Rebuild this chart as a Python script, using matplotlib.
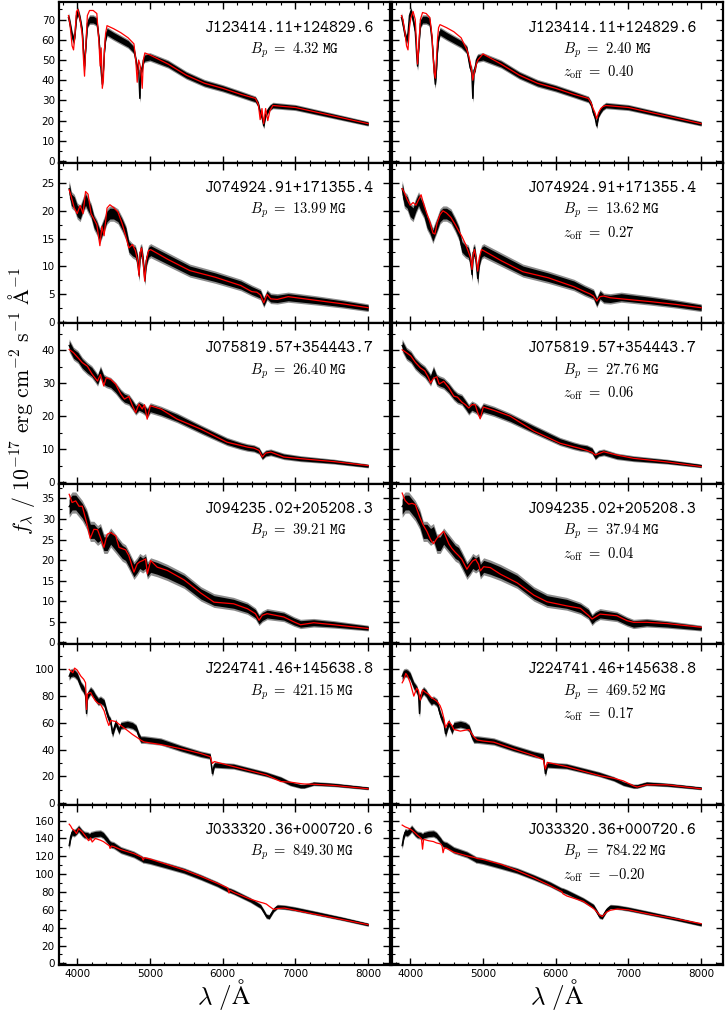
import os
import numpy as np
import matplotlib
matplotlib.use("Agg")
import matplotlib.pyplot as plt
from matplotlib.ticker import MultipleLocator, AutoMinorLocator
from matplotlib.font_manager import FontProperties

# ---------------- data ----------------
names = ["J123414.11+124829.6", "J074924.91+171355.4", "J075819.57+354443.7",
         "J094235.02+205208.3", "J224741.46+145638.8", "J033320.36+000720.6"]
bp_left = ["4.32", "13.99", "26.40", "39.21", "421.15", "849.30"]
bp_right = ["2.40", "13.62", "27.76", "37.94", "469.52", "784.22"]
zoff_right = ["0.40", "0.27", "0.06", "0.04", "0.17", "-0.20"]

y_top = [78.6, 28.7, 48.3, 38.6, 119.0, 178.0]
y_major = [10, 5, 10, 5, 20, 20]
noise_blue = [2.5, 1.5, 2.0, 2.6, 3.5, 4.5]
noise_red = [1.2, 0.7, 0.6, 0.7, 1.2, 2.0]

# Row 1
wl1 = [3880, 3900, 3930, 3950, 3970, 3990, 4010, 4040, 4070, 4090,
       4101, 4115, 4140, 4170, 4220, 4270, 4300, 4315, 4330, 4345,
       4360, 4375, 4390, 4410, 4500, 4600, 4700, 4780, 4805, 4825,
       4845, 4861, 4877, 4894, 4910, 4930, 5000, 5250, 5500, 5750,
       6000, 6250, 6450, 6490, 6515, 6540, 6563, 6590, 6620, 6650,
       6690, 7000, 7250, 7500, 7750, 8000]
obs1 = [71, 68, 62, 60, 63, 72, 74, 70, 64, 52,
        47, 55, 68, 70, 70, 69, 60, 52, 44, 38,
        45, 55, 61, 64, 62, 60, 58, 55, 50, 46,
        45, 31, 45, 46, 50, 51, 51.5, 48, 42.5, 38.5,
        36, 33, 30.5, 28, 24, 22, 17.5, 23, 25, 26.5,
        27.5, 26.5, 24.5, 22.5, 20.5, 18.5]
modL1 = [72, 68, 57, 55, 63, 74, 75, 70, 62, 48,
         42, 55, 72, 74.5, 74.5, 73, 58, 47, 56, 36,
         40, 55, 63, 67, 65.5, 63.5, 61, 58, 50, 39,
         50, 48, 45, 36, 50, 53.5, 52.5, 48, 42.5, 38.5,
         36, 33, 31, 28, 20.5, 26, 18.5, 26, 20, 25,
         27.5, 26.5, 24.5, 22.5, 20.5, 18.5]
modR1 = [72, 70, 63, 57, 55, 66, 71, 74, 70, 56,
         48, 55, 70, 73.5, 73, 71, 62, 52, 44, 41,
         50, 60, 66, 67.5, 66, 64, 61, 55, 52, 49,
         45, 40, 43, 45.5, 48, 50, 53, 48, 42.5, 38.5,
         36, 33, 31, 28.5, 26, 24, 21, 24, 26, 27,
         27.5, 26.5, 24.5, 22.5, 20.5, 18.5]

# Row 2
wl2 = [3890, 3920, 3960, 4000, 4040, 4080, 4115, 4150, 4190, 4230,
       4270, 4312, 4340, 4370, 4410, 4450, 4500, 4560, 4620, 4670,
       4710, 4760, 4800, 4830, 4850, 4865, 4885, 4905, 4928, 4950,
       4980, 5010, 5250, 5550, 5900, 6250, 6400, 6470, 6520, 6565,
       6610, 6660, 6750, 6900, 7300, 7650, 8000]
obs2 = [24, 22, 21.5, 20, 19.5, 21, 22, 21, 20, 18,
        17, 15.5, 16.5, 17.5, 19, 19.5, 19.5, 19, 17.5, 16,
        13.5, 12.8, 12.5, 11, 8.5, 12.5, 12.8, 11, 7.8, 11,
        12.5, 12.8, 11.2, 9.2, 8, 6.6, 5.6, 5.2, 4.9, 3.5,
        4.8, 4.2, 4.1, 4.4, 3.8, 3.2, 2.5]
modL2 = [23.8, 22.5, 20.5, 19.5, 21, 19.5, 23.5, 23, 19.5, 18.5,
         17.5, 13.7, 17.2, 15.5, 20.5, 21.1, 20.6, 19.8, 17.6, 15.3,
         13.3, 13.9, 12.8, 11, 8.2, 12.5, 13.3, 11, 7.3, 11,
         12.8, 13, 11.2, 9.2, 8, 6.5, 5.4, 5.3, 4.8, 3.4,
         4.9, 4.1, 4, 4.5, 3.8, 3.2, 2.5]
modR2 = [24, 23.3, 22, 21, 21.5, 21, 22, 22.9, 21, 19.5,
         18, 16, 15.8, 17.8, 19.3, 20, 19.6, 18.8, 17.5, 16.3,
         15.4, 14, 12.6, 11.5, 9.4, 12, 13, 11.5, 9.1, 11.5,
         13, 12.8, 11, 9, 7.9, 6.3, 5.4, 5, 4.6, 3.7,
         4.5, 4.6, 4.3, 4.1, 3.6, 3.1, 2.5]

# Row 3
wl3 = [3890, 3950, 4010, 4070, 4140, 4200, 4250, 4280, 4320, 4365,
       4400, 4460, 4530, 4600, 4650, 4710, 4760, 4805, 4848, 4894,
       4925, 4962, 5005, 5150, 5375, 5700, 6060, 6250, 6340, 6430,
       6500, 6545, 6590, 6660, 6840, 7070, 7530, 8000]
obs3 = [41.5, 39, 38, 36, 34.5, 33.5, 32, 31, 33.5, 31,
        30.5, 30, 28.5, 26.5, 25.5, 25, 23.5, 22, 23, 22.5,
        22, 21, 22.5, 21.5, 19.5, 16, 12.3, 11, 10.5, 10.2,
        9.5, 7.8, 8.7, 9.0, 7.8, 7.1, 6.2, 4.9]
modL3 = [40.3, 39.3, 37.8, 36.3, 35.2, 33, 31.5, 30.7, 32.7, 29.2,
         31.7, 31.2, 29.7, 26.7, 25.2, 26, 23.2, 21.1, 23.7, 22.2,
         23.5, 19.1, 23.2, 22.2, 19.1, 16.1, 12.1, 11.1, 10.6, 10.3,
         9.6, 7.6, 8.8, 9.1, 7.6, 7.1, 6.2, 5.0]
modR3 = [40.2, 39.3, 38.3, 36.4, 34.7, 33.8, 31.8, 30.1, 31.5, 32,
         29.8, 30.6, 28.7, 26.1, 25.8, 24.3, 23.5, 22.5, 23.5, 23.5,
         21.3, 19.2, 22.8, 21.8, 20, 15.5, 11.8, 10.7, 10.2, 9.6,
         9.0, 8.2, 8.6, 9.2, 8.2, 7.2, 6.1, 4.7]

# Row 4
wl4 = [3890, 3930, 3980, 4025, 4070, 4130, 4180, 4230, 4280, 4320,
       4367, 4413, 4460, 4530, 4575, 4620, 4665, 4710, 4780, 4825,
       4860, 4900, 4940, 4965, 5010, 5100, 5240, 5470, 5700, 5880,
       6150, 6340, 6450, 6500, 6545, 6610, 6840, 6980, 7070, 7250,
       7530, 8000]
obs4 = [33, 34, 34, 33, 32, 30, 27, 27, 26, 26.5,
        24, 24, 25.5, 24, 23, 22, 21.5, 20, 17.5, 18.5,
        19.5, 19, 19.5, 17.5, 18.5, 18, 17, 15, 11.8, 10.2,
        9.4, 8.3, 7, 5.5, 6.3, 6.9, 6.3, 5.1, 4.5, 4.8,
        4.4, 3.5]
modL4 = [36, 34, 34.4, 33.1, 33.1, 29.1, 25.3, 27.5, 27.4, 25.5,
         23.1, 26.3, 26.7, 25.9, 23.1, 22.8, 22.5, 21.1, 17.1, 19.1,
         19.6, 19.9, 20.3, 16.7, 19.9, 18.3, 17.5, 15.2, 12.0, 9.8,
         9.4, 8.2, 7.0, 5.4, 6.6, 7.0, 6.2, 5.0, 4.3, 4.8,
         4.3, 3.4]
modR4 = [36.3, 34.5, 33.6, 33.8, 33.5, 30.5, 28.5, 27, 25, 24,
         25.3, 26.2, 27, 24, 22.8, 21.9, 21.1, 20.2, 17.8, 19,
         19.8, 20.2, 19, 17.4, 18.4, 18.2, 16.6, 14.5, 11.5, 9.9,
         8.9, 8.3, 6.6, 5.7, 6.2, 6.9, 6.5, 5.3, 4.9, 4.9,
         4.6, 3.7]

# Row 5
wl5 = [3890, 3910, 3940, 3965, 4000, 4050, 4090, 4115, 4128, 4140,
       4170, 4185, 4220, 4250, 4290, 4320, 4370, 4410, 4435, 4460,
       4485, 4530, 4575, 4600, 4690, 4760, 4810, 4850, 4875, 4920,
       5000, 5150, 5420, 5700, 5830, 5858, 5885, 6150, 6600, 6800,
       6930, 7070, 7120, 7250, 7530, 8000]
obs5 = [95, 97, 97.5, 97, 95, 88, 85, 81, 67, 80,
        83, 84, 82, 79, 76, 77, 75, 67, 63, 61,
        52, 60, 54, 58, 59, 58, 56, 50, 47.5, 47.5,
        47, 46, 41, 36.5, 35, 22, 28.5, 27.5, 21.5, 18,
        14.5, 12.5, 12.5, 14.5, 13.6, 11]
modL5 = [100, 99, 97.5, 101, 99.5, 95, 92.6, 90, 70, 81.5,
         82.5, 82.7, 79, 76.5, 74.5, 74, 69, 61.7, 58, 61.7,
         61.5, 61, 59, 58, 54.3, 51.3, 49.5, 48, 47, 45.7,
         45, 43.7, 40.7, 37, 34.6, 29.6, 31, 27.2, 21, 16,
         15.6, 14.5, 14.2, 14, 13.1, 10.6]
modR5 = [90, 92, 97, 95, 90, 80, 86, 84, 79, 77,
         84.7, 84, 82.5, 81.5, 79, 78, 76, 73, 69.5, 64,
         56.5, 61, 58, 55, 53.8, 54.5, 55, 51.5, 49.5, 47.2,
         46.4, 45.5, 40.5, 35.5, 32.5, 25.4, 30.4, 27.2, 20.5, 18.5,
         16.5, 12.8, 11.9, 13.6, 13.6, 10.6]

# Row 6
wl6 = [3890, 3910, 3930, 3960, 3990, 4020, 4070, 4100, 4137, 4155,
       4170, 4185, 4206, 4250, 4320, 4360, 4420, 4440, 4452, 4470,
       4500, 4600, 4780, 4890, 4907, 4925, 5000, 5250, 5470, 5700,
       5925, 6070, 6085, 6100, 6154, 6380, 6520, 6565, 6600, 6640,
       6700, 6750, 6850, 7000, 7300, 7650, 8000]
obs6 = [132, 142, 147, 146, 148, 151, 146, 144, 143.6, 143,
        142, 143.6, 144, 145, 145.5, 143.6, 137.5, 135, 134, 133,
        132.5, 127, 122, 117, 116, 116, 114.7, 109, 103.8, 96.5,
        88.7, 82.5, 82, 81.8, 80, 71, 64, 58, 53, 52,
        60, 63.5, 63, 61, 56, 50, 43.5]
modL6 = [156, 154, 151, 149, 145.5, 151, 147.4, 144, 140, 137.5,
         139, 140.7, 136, 140, 138, 136.5, 133, 132, 128.8, 131.5,
         131, 127.5, 123, 119, 115.8, 118.5, 117, 110.5, 104.7, 97.5,
         89.8, 84.5, 79, 82, 79.5, 72, 68.5, 67.5, 66.5, 64,
         60.5, 61.5, 62, 59.5, 54.6, 49, 43.4]
modR6 = [155, 154, 153, 152, 151, 149.5, 146, 143.5, 141, 139.5,
         128, 139, 138.5, 137.5, 136.5, 135, 133.8, 131, 124, 129.5,
         129, 124.5, 120.5, 118.5, 118, 117.5, 116.5, 111, 104, 96,
         87, 81, 80.5, 78, 75.5, 69.5, 61.5, 58, 54.5, 52.5,
         57.5, 59.5, 61, 60, 55, 50, 44.5]

wls = [wl1, wl2, wl3, wl4, wl5, wl6]
obs = [obs1, obs2, obs3, obs4, obs5, obs6]
modsL = [modL1, modL2, modL3, modL4, modL5, modL6]
modsR = [modR1, modR2, modR3, modR4, modR5, modR6]

# ---------------- style ----------------
plt.rcParams["mathtext.fontset"] = "cm"
plt.rcParams["font.family"] = ["DejaVu Sans"]
tt_path = os.path.join(matplotlib.get_data_path(), "fonts", "ttf", "cmtt10.ttf")
tt_name = FontProperties(fname=tt_path, size=12.2)

fig = plt.figure(figsize=(7.26, 10.11), dpi=100)
gs = fig.add_gridspec(6, 2, left=59 / 726, right=723 / 726,
                      top=1 - 2.2 / 1011, bottom=1 - 965 / 1011,
                      hspace=0, wspace=0.006)


def draw_obs(ax, wl, f, nb, nr):
    wl = np.asarray(wl, float)
    f = np.asarray(f, float)
    n = np.interp(wl, [3880, 8000], [nb, nr])
    ax.fill_between(wl, f - n, f + n, color="0.55", lw=0, zorder=2)
    ax.fill_between(wl, f - 0.7 * n, f + 0.7 * n, color="k", lw=0, zorder=3)
    ax.plot(wl, f, color="k", lw=1.0, zorder=4)


for r in range(6):
    for c in range(2):
        ax = fig.add_subplot(gs[r, c])
        draw_obs(ax, wls[r], obs[r], noise_blue[r], noise_red[r])
        mod = modsL[r] if c == 0 else modsR[r]
        ax.plot(wls[r], mod, color="#ff0000", lw=0.9, zorder=5)
        ax.set_xlim(3750, 8300)
        ax.set_ylim(-0.01 * y_top[r], y_top[r])
        ax.xaxis.set_major_locator(MultipleLocator(1000))
        ax.xaxis.set_minor_locator(AutoMinorLocator(5))
        ax.yaxis.set_major_locator(MultipleLocator(y_major[r]))
        ax.yaxis.set_minor_locator(AutoMinorLocator(2))
        ax.tick_params(which="both", direction="in", top=True, right=True,
                       labelsize=7.5, pad=3)
        ax.tick_params(which="major", length=5, width=1.0)
        ax.tick_params(which="minor", length=2.5, width=0.8)
        for s in ax.spines.values():
            s.set_linewidth(1.6)
        if c == 1:
            ax.tick_params(labelleft=False)
        if r < 5:
            ax.tick_params(labelbottom=False)
        if c == 0:
            ax.text(0.952, 0.839, names[r], transform=ax.transAxes,
                    ha="right", va="center", fontproperties=tt_name)
            ax.text(0.577, 0.702, r"$B_p\ \mathtt{=\ %s\ MG}$" % bp_left[r],
                    transform=ax.transAxes, ha="left", va="center", fontsize=10.5)
        else:
            ax.text(0.921, 0.839, names[r], transform=ax.transAxes,
                    ha="right", va="center", fontproperties=tt_name)
            ax.text(0.517, 0.702, r"$B_p\ \mathtt{=\ %s\ MG}$" % bp_right[r],
                    transform=ax.transAxes, ha="left", va="center", fontsize=10.5)
            ax.text(0.517, 0.561, r"$z_\mathrm{off}\ \mathtt{=\ {%s}}$" % zoff_right[r],
                    transform=ax.transAxes, ha="left", va="center", fontsize=10.5)

fig.text(0.030, 0.603,
         r"$f_\lambda\ /\ 10^{-17}\ \mathrm{erg\ cm^{-2}\ s^{-1}\ \AA^{-1}}$",
         rotation=90, ha="center", va="center", fontsize=15.7)
fig.text((59 + 390) / 2 / 726, 0.016, r"$\lambda\ /\mathrm{\AA}$",
         ha="center", va="center", fontsize=18)
fig.text((392 + 723) / 2 / 726, 0.016, r"$\lambda\ /\mathrm{\AA}$",
         ha="center", va="center", fontsize=18)

fig.savefig("out.png", dpi=100)
